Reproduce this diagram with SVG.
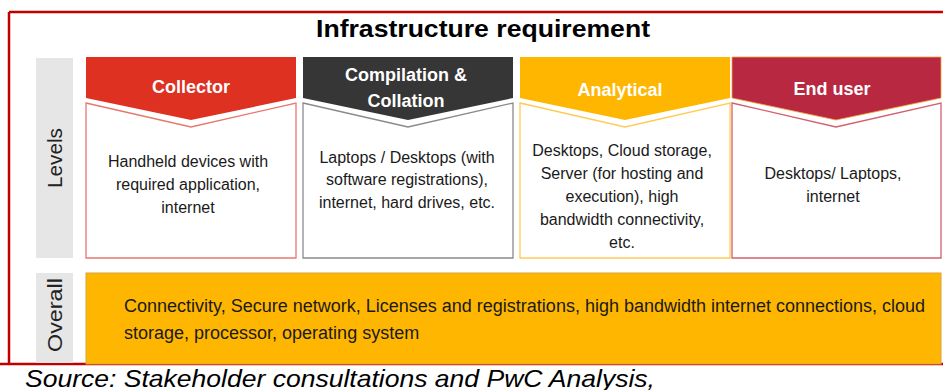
<svg xmlns="http://www.w3.org/2000/svg" width="943" height="390" viewBox="0 0 943 390">
  <style>
    .title { font-family: "Liberation Sans", Arial, sans-serif; font-size: 24px; font-weight: bold; fill: #000; }
    .side { font-family: "Liberation Sans", Arial, sans-serif; fill: #222; }
    .head { font-family: "Liberation Sans", Arial, sans-serif; font-size: 18px; font-weight: bold; fill: #fff; text-anchor: middle; }
    .body { font-family: "Liberation Sans", Arial, sans-serif; font-size: 16px; fill: #1a1a1a; text-anchor: middle; }
    .overall { font-family: "Liberation Sans", Arial, sans-serif; font-size: 18px; fill: #1a1a1a; }
    .source { font-family: "Liberation Sans", Arial, sans-serif; font-size: 24px; font-style: italic; fill: #000; }
    .band { fill: #e6e6e6; }
    .box { fill: #fff; stroke-width: 1.3; }
  </style>

  <rect width="943" height="390" fill="#fff"/>

  <!-- frame -->
  <g id="frame" stroke="#c00000" stroke-width="2.5" fill="none">
    <path d="M9 12 H943 M9 12 V364 M0 364 H943"/>
  </g>

  <text class="title" x="316" y="37" textLength="334" lengthAdjust="spacingAndGlyphs">Infrastructure requirement</text>

  <!-- side bands -->
  <g id="levels">
    <rect class="band" x="36" y="58" width="37" height="200"/>
    <text class="side" font-size="20" transform="translate(62 158) rotate(-90)" text-anchor="middle" textLength="60" lengthAdjust="spacingAndGlyphs">Levels</text>
  </g>
  <g id="overall-label">
    <rect class="band" x="36" y="273" width="37" height="90"/>
    <text class="side" font-size="21" transform="translate(62 315) rotate(-90)" text-anchor="middle" textLength="74" lengthAdjust="spacingAndGlyphs">Overall</text>
  </g>

  <!-- Collector -->
  <g id="collector">
    <path d="M86 57 H296 V98 L191 120 L86 98 Z" fill="#de3121"/>
    <path class="box" d="M86 103 L191 127 L296 103 V258 H86 Z" stroke="#e8776c"/>
    <text class="head" x="191" y="93">Collector</text>
    <text class="body" x="188" y="167">Handheld devices with</text>
    <text class="body" x="188" y="190">required application,</text>
    <text class="body" x="188" y="213">internet</text>
  </g>

  <!-- Compilation & Collation -->
  <g id="compilation">
    <path d="M303 57 H513 V98 L408 120 L303 98 Z" fill="#363636"/>
    <path class="box" d="M303 103 L408 127 L513 103 V258 H303 Z" stroke="#8a8a8a"/>
    <text class="head" x="406" y="81">Compilation &amp;</text>
    <text class="head" x="406" y="107">Collation</text>
    <text class="body" x="407" y="163">Laptops / Desktops (with</text>
    <text class="body" x="407" y="185">software registrations),</text>
    <text class="body" x="407" y="208">internet, hard drives, etc.</text>
  </g>

  <!-- Analytical -->
  <g id="analytical">
    <path d="M520 57 H730 V98 L625 120 L520 98 Z" fill="#ffb600"/>
    <path class="box" d="M520 103 L625 127 L730 103 V258 H520 Z" stroke="#ffcb55"/>
    <text class="head" x="620" y="96">Analytical</text>
    <text class="body" x="622" y="156">Desktops, Cloud storage,</text>
    <text class="body" x="622" y="179">Server (for hosting and</text>
    <text class="body" x="622" y="202">execution), high</text>
    <text class="body" x="622" y="225">bandwidth connectivity,</text>
    <text class="body" x="622" y="248">etc.</text>
  </g>

  <!-- End user -->
  <g id="end-user">
    <path d="M732 57 H941 V98 L836 120 L732 98 Z" fill="#b92841" stroke="#f2a43a" stroke-width="0.8"/>
    <path class="box" d="M732 103 L836 127 L941 103 V258 H732 Z" stroke="#d2606f"/>
    <text class="head" x="832" y="95">End user</text>
    <text class="body" x="833" y="179">Desktops/ Laptops,</text>
    <text class="body" x="833" y="202">internet</text>
  </g>

  <!-- Overall requirements -->
  <g id="overall">
    <rect x="86" y="273" width="855" height="91" fill="#ffb600" stroke="#d8a43a" stroke-width="1"/>
    <text class="overall" x="124" y="312">Connectivity, Secure network, Licenses and registrations, high bandwidth internet connections, cloud</text>
    <text class="overall" x="124" y="339">storage, processor, operating system</text>
  </g>

  <text class="source" x="25" y="387" textLength="630" lengthAdjust="spacingAndGlyphs">Source: Stakeholder consultations and PwC Analysis,</text>
</svg>
